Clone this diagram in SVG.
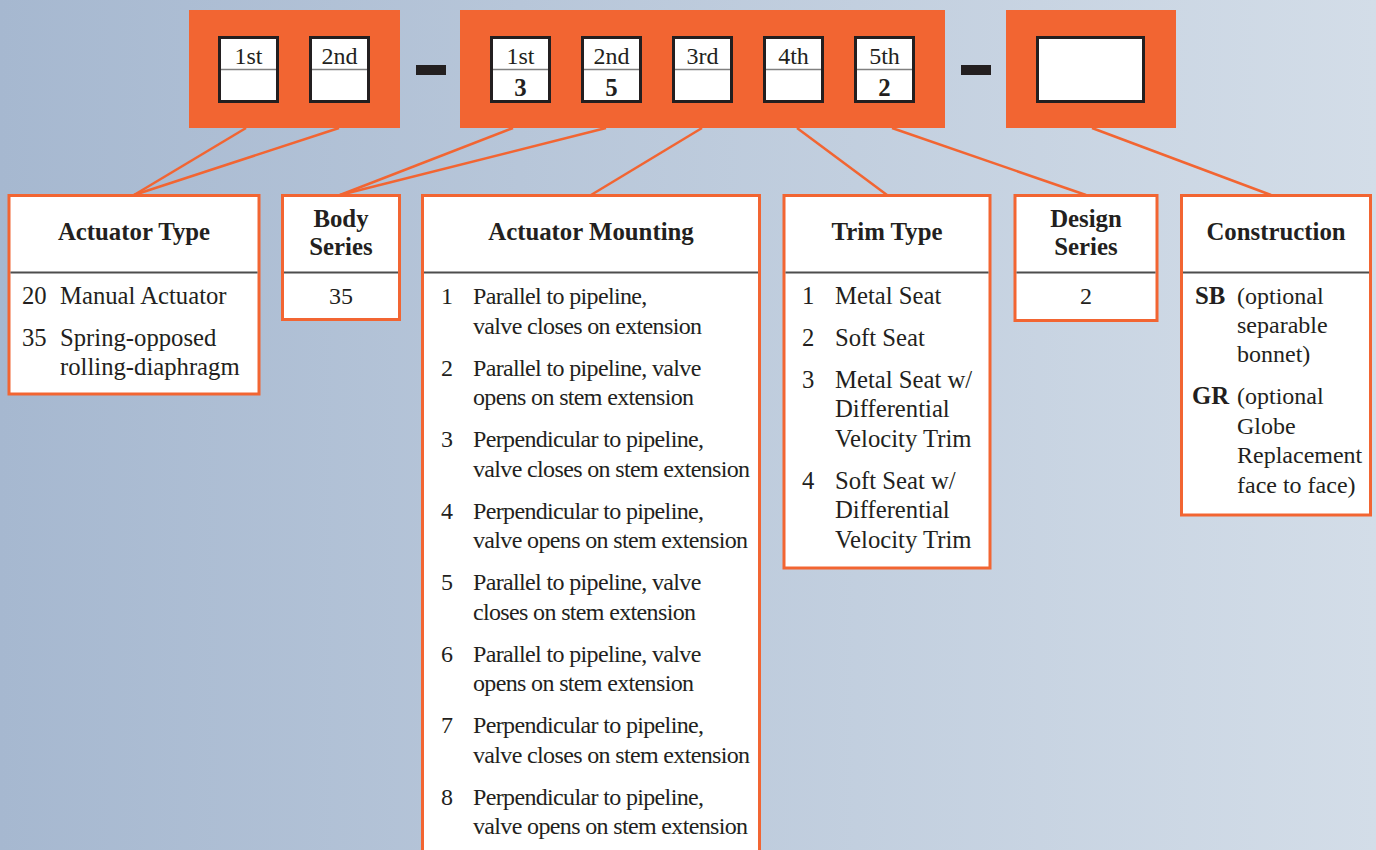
<svg xmlns="http://www.w3.org/2000/svg" width="1376" height="850" viewBox="0 0 1376 850">
<defs>
<linearGradient id="bg" x1="0" y1="0" x2="1" y2="0">
<stop offset="0" stop-color="#a6b8d0"/>
<stop offset="1" stop-color="#d3dde8"/>
</linearGradient>
<style>
.blk{fill:#f26532}
.sb{fill:#fff;stroke:#231f20;stroke-width:3}
.sd{stroke:#808080;stroke-width:1.5}
.dash{fill:#231f20}
.box{fill:#fff;stroke:#f26532;stroke-width:3}
.hd{stroke:#4d4d4d;stroke-width:2}
.t{font-family:"Liberation Serif","Times New Roman",serif;font-size:24px;fill:#231f20}
.b{font-weight:bold;font-size:24.8px}
.c{text-anchor:middle}
.w{font-size:24.7px}
.n{letter-spacing:-0.65px}
.con line{stroke:#f26532;stroke-width:2.5}
</style>
</defs>
<rect width="1376" height="850" fill="url(#bg)"/>

<g class="con">
<line x1="246" y1="128" x2="134" y2="195"/>
<line x1="339" y1="128" x2="134" y2="195"/>
<line x1="513" y1="128" x2="340" y2="195"/>
<line x1="606" y1="128" x2="340" y2="195"/>
<line x1="702" y1="128" x2="591" y2="195"/>
<line x1="797" y1="128" x2="887" y2="195"/>
<line x1="892" y1="128" x2="1086" y2="195"/>
<line x1="1092" y1="128" x2="1271" y2="195"/>
</g>

<g id="code-bar">
<rect class="blk" x="189" y="10" width="211" height="118"/>
<rect class="blk" x="460" y="10" width="485" height="118"/>
<rect class="blk" x="1006" y="10" width="170" height="118"/>
<rect class="dash" x="416" y="65" width="30" height="10"/>
<rect class="dash" x="961" y="65" width="30" height="10"/>
<g id="d1"><rect class="sb" x="219.5" y="37.5" width="58" height="64"/><line class="sd" x1="221" y1="69.5" x2="276" y2="69.5"/><text class="t c" x="248.5" y="64">1st</text></g>
<g id="d2"><rect class="sb" x="310.5" y="37.5" width="58" height="64"/><line class="sd" x1="312" y1="69.5" x2="367" y2="69.5"/><text class="t c" x="339.5" y="64">2nd</text></g>
<g id="d3"><rect class="sb" x="491.5" y="37.5" width="58" height="64"/><line class="sd" x1="493" y1="69.5" x2="548" y2="69.5"/><text class="t c" x="520.5" y="64">1st</text><text class="t c b" x="520.5" y="96">3</text></g>
<g id="d4"><rect class="sb" x="582.5" y="37.5" width="58" height="64"/><line class="sd" x1="584" y1="69.5" x2="639" y2="69.5"/><text class="t c" x="611.5" y="64">2nd</text><text class="t c b" x="611.5" y="96">5</text></g>
<g id="d5"><rect class="sb" x="673.5" y="37.5" width="58" height="64"/><line class="sd" x1="675" y1="69.5" x2="730" y2="69.5"/><text class="t c" x="702.5" y="64">3rd</text></g>
<g id="d6"><rect class="sb" x="764.5" y="37.5" width="58" height="64"/><line class="sd" x1="766" y1="69.5" x2="821" y2="69.5"/><text class="t c" x="793.5" y="64">4th</text></g>
<g id="d7"><rect class="sb" x="855.5" y="37.5" width="58" height="64"/><line class="sd" x1="857" y1="69.5" x2="912" y2="69.5"/><text class="t c" x="884.5" y="64">5th</text><text class="t c b" x="884.5" y="96">2</text></g>
<g id="d8"><rect class="sb" x="1037.5" y="37.5" width="106" height="64"/></g>
</g>

<g id="actuator-type">
<rect class="box" x="9" y="195.5" width="250" height="198.5"/>
<line class="hd" x1="10.5" y1="272.5" x2="257.5" y2="272.5"/>
<text class="t b c" x="134" y="240">Actuator Type</text>
<text class="t w" x="22" y="304">20</text><text class="t w" x="60" y="304">Manual Actuator</text>
<text class="t w" x="22" y="345.5">35</text><text class="t w" x="60" y="345.5">Spring-opposed</text>
<text class="t w" x="60" y="375">rolling-diaphragm</text>
</g>

<g id="body-series">
<rect class="box" x="282.5" y="195.5" width="117" height="124"/>
<line class="hd" x1="284" y1="272.5" x2="398" y2="272.5"/>
<text class="t b c" x="341" y="226.5">Body</text>
<text class="t b c" x="341" y="255">Series</text>
<text class="t c" x="341" y="304">35</text>
</g>

<g id="actuator-mounting">
<rect class="box" x="422.5" y="195.5" width="337" height="670"/>
<line class="hd" x1="424" y1="272.5" x2="758" y2="272.5"/>
<text class="t b c" x="591" y="240">Actuator Mounting</text>
<g class="n">
<text class="t" x="441" y="304">1</text><text class="t" x="473" y="304">Parallel to pipeline,</text><text class="t" x="473" y="333.5">valve closes on extension</text>
<text class="t" x="441" y="375.5">2</text><text class="t" x="473" y="375.5">Parallel to pipeline, valve</text><text class="t" x="473" y="405">opens on stem extension</text>
<text class="t" x="441" y="447">3</text><text class="t" x="473" y="447">Perpendicular to pipeline,</text><text class="t" x="473" y="476.5">valve closes on stem extension</text>
<text class="t" x="441" y="518.5">4</text><text class="t" x="473" y="518.5">Perpendicular to pipeline,</text><text class="t" x="473" y="548">valve opens on stem extension</text>
<text class="t" x="441" y="590">5</text><text class="t" x="473" y="590">Parallel to pipeline, valve</text><text class="t" x="473" y="619.5">closes on stem extension</text>
<text class="t" x="441" y="661.5">6</text><text class="t" x="473" y="661.5">Parallel to pipeline, valve</text><text class="t" x="473" y="691">opens on stem extension</text>
<text class="t" x="441" y="733">7</text><text class="t" x="473" y="733">Perpendicular to pipeline,</text><text class="t" x="473" y="762.5">valve closes on stem extension</text>
<text class="t" x="441" y="804.5">8</text><text class="t" x="473" y="804.5">Perpendicular to pipeline,</text><text class="t" x="473" y="834">valve opens on stem extension</text>
</g>
</g>

<g id="trim-type">
<rect class="box" x="784" y="195.5" width="206" height="372.5"/>
<line class="hd" x1="785.5" y1="272.5" x2="988.5" y2="272.5"/>
<text class="t b c" x="887" y="240">Trim Type</text>
<text class="t w" x="802" y="304">1</text><text class="t w" x="835" y="304">Metal Seat</text>
<text class="t w" x="802" y="346">2</text><text class="t w" x="835" y="346">Soft Seat</text>
<text class="t w" x="802" y="387.5">3</text><text class="t w" x="835" y="387.5">Metal Seat w/</text>
<text class="t w" x="835" y="417">Differential</text>
<text class="t w" x="835" y="446.5">Velocity Trim</text>
<text class="t w" x="802" y="488.5">4</text><text class="t w" x="835" y="488.5">Soft Seat w/</text>
<text class="t w" x="835" y="518">Differential</text>
<text class="t w" x="835" y="547.5">Velocity Trim</text>
</g>

<g id="design-series">
<rect class="box" x="1015" y="195.5" width="142" height="125"/>
<line class="hd" x1="1016.5" y1="272.5" x2="1155.5" y2="272.5"/>
<text class="t b c" x="1086" y="226.5">Design</text>
<text class="t b c" x="1086" y="255">Series</text>
<text class="t c" x="1086" y="304">2</text>
</g>

<g id="construction">
<rect class="box" x="1181.5" y="195.5" width="189" height="319.5"/>
<line class="hd" x1="1183" y1="272.5" x2="1369" y2="272.5"/>
<text class="t b c" x="1276" y="240">Construction</text>
<text class="t b" x="1195" y="304">SB</text><text class="t" x="1237" y="304">(optional</text>
<text class="t" x="1237" y="333">separable</text>
<text class="t" x="1237" y="362">bonnet)</text>
<text class="t b" x="1192" y="404">GR</text><text class="t" x="1237" y="404">(optional</text>
<text class="t" x="1237" y="433.5">Globe</text>
<text class="t" x="1237" y="463">Replacement</text>
<text class="t" x="1237" y="493">face to face)</text>
</g>
</svg>
